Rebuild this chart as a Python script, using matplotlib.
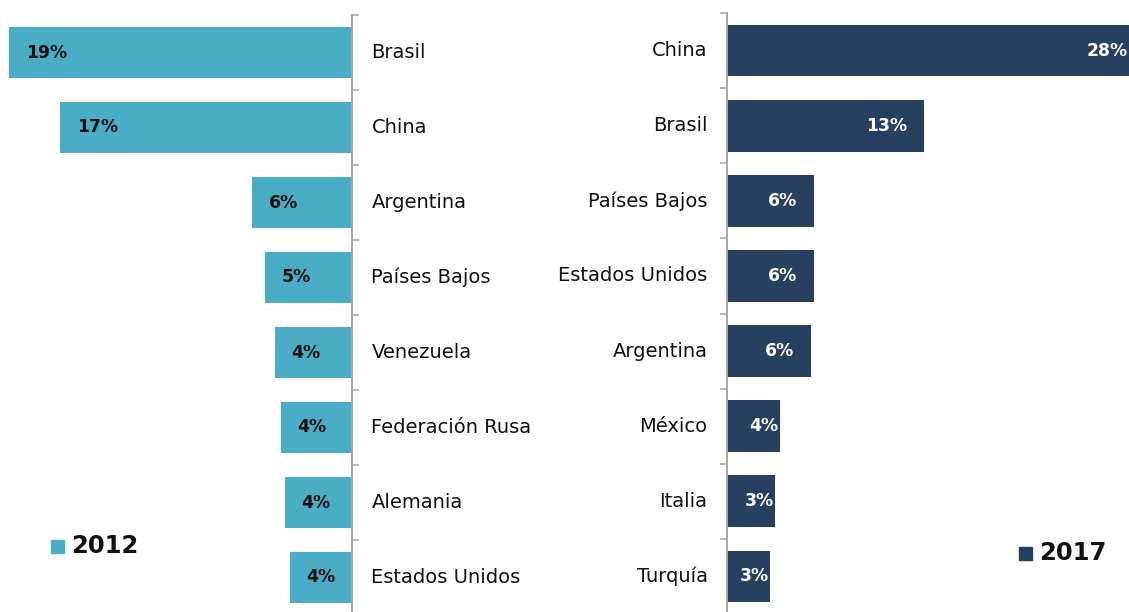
import numpy as np
import matplotlib
matplotlib.use("Agg")
import matplotlib.pyplot as plt

# principales destinos, participación (%)
paises_2012 = ["Brasil", "China", "Argentina", "Países Bajos", "Venezuela",
               "Federación Rusa", "Alemania", "Estados Unidos"]
valores_2012 = [19.4, 16.52, 5.66, 4.92, 4.36, 4.02, 3.79, 3.51]

paises_2017 = ["China", "Brasil", "Países Bajos", "Estados Unidos", "Argentina",
               "México", "Italia", "Turquía"]
valores_2017 = [27.8, 13.13, 5.8, 5.8, 5.6, 3.53, 3.2, 2.87]

col_2012 = "#4BACC6"
col_2017 = "#27405F"
gris = "#A6A6A6"

plt.rcParams["font.family"] = "DejaVu Sans"

W, H = 1129, 612
fig = plt.figure(figsize=(W / 100, H / 100), dpi=100)

def px(x0, y0, x1, y1):
    # caja en pixeles (origen arriba a la izquierda) -> fracción de figura
    return [x0 / W, (H - y1) / H, (x1 - x0) / W, (y1 - y0) / H]

ax1 = fig.add_axes(px(0, 15, 352, 615))
ax2 = fig.add_axes(px(727, 13, 1129, 614))

n = len(paises_2012)
y = np.arange(n)

def estilo(ax, lado):
    for s in ax.spines.values():
        s.set_visible(False)
    ax.spines[lado].set_visible(True)
    ax.spines[lado].set_color(gris)
    ax.spines[lado].set_linewidth(1.4)
    ax.set_ylim(n - 0.5, -0.5)
    ax.set_yticks(np.arange(-0.5, n, 1.0))
    ax.set_yticklabels([])
    ax.tick_params(axis="y", direction="out", length=5, width=1.1, color=gris)
    ax.set_xticks([])
    ax.patch.set_alpha(0)

# 2012: barras hacia la izquierda
ax1.barh(y, valores_2012, height=0.69, color=col_2012)
ax1.set_xlim(352 / 17.68, 0)
ax1.yaxis.tick_right()
estilo(ax1, "right")
for i, v in enumerate(valores_2012):
    ax1.annotate(f"{v:.0f}%", (v, i), xytext=(12, 0), textcoords="offset points",
                 ha="left", va="center", fontsize=12.4, fontweight="bold", color="#111111")
    ax1.annotate(paises_2012[i], (0, i), xytext=(14, 0), textcoords="offset points",
                 ha="left", va="center", fontsize=14, color="#111111",
                 annotation_clip=False)

# 2017: barras hacia la derecha
ax2.barh(y, valores_2017, height=0.69, color=col_2017)
ax2.set_xlim(0, 402 / 15.0)
estilo(ax2, "left")
for i, v in enumerate(valores_2017):
    dx = -12 if v > 5 else -max(1.0, 0.9 * v - 2)
    ax2.annotate(f"{v:.0f}%", (v, i), xytext=(dx, 0), textcoords="offset points",
                 ha="right", va="center", fontsize=12.4, fontweight="bold", color="white",
                 annotation_clip=False)
    ax2.annotate(paises_2017[i], (0, i), xytext=(-14, 0), textcoords="offset points",
                 ha="right", va="center", fontsize=14, color="#111111",
                 annotation_clip=False)

# leyendas
fig.patches.append(plt.Rectangle((51 / W, (H - 553) / H), 13 / W, 13 / H,
                                 transform=fig.transFigure, color=col_2012))
fig.text(71 / W, (H - 546) / H, "2012", ha="left", va="center",
         fontsize=17.5, fontweight="bold", color="#111111")
fig.patches.append(plt.Rectangle((1019 / W, (H - 560) / H), 13 / W, 13 / H,
                                 transform=fig.transFigure, color=col_2017))
fig.text(1039 / W, (H - 553) / H, "2017", ha="left", va="center",
         fontsize=17.5, fontweight="bold", color="#111111")

fig.savefig("out.png", dpi=100)
